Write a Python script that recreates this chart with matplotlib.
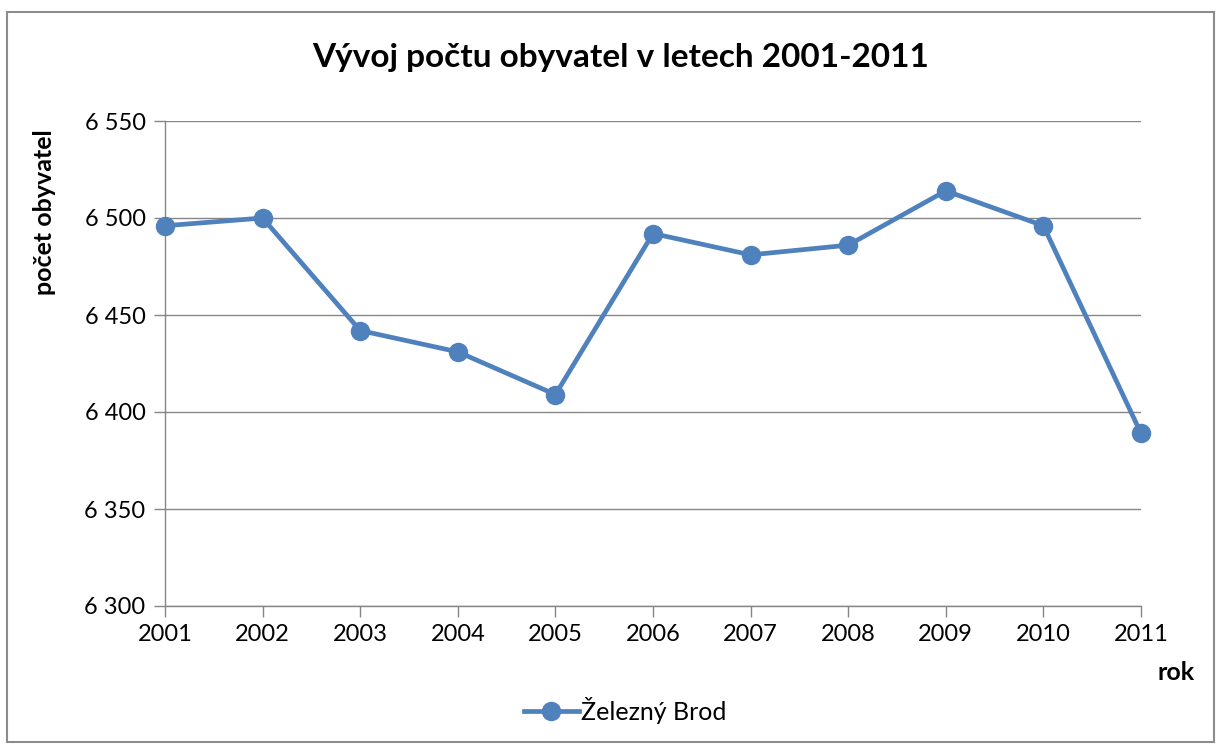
import matplotlib
matplotlib.use("Agg")
import matplotlib.pyplot as plt
from matplotlib.patches import Rectangle

years = [2001, 2002, 2003, 2004, 2005, 2006, 2007, 2008, 2009, 2010, 2011]
population = [6496, 6500, 6442, 6431, 6409, 6492, 6481, 6486, 6514, 6496, 6389]
yticks = [6300, 6350, 6400, 6450, 6500, 6550]
ytick_labels = ["6 300", "6 350", "6 400", "6 450", "6 500", "6 550"]

plt.rcParams['font.family'] = ['Lato', 'DejaVu Sans']

fig = plt.figure(figsize=(12.21, 7.45), dpi=100)
ax = fig.add_axes([165 / 1221, 1 - 606 / 745, (1141 - 165) / 1221, (606 - 121) / 745])

# chart frame
fig.patches.append(Rectangle((7 / 1221, 3 / 745), 1207 / 1221, 730 / 745,
                             transform=fig.transFigure, fill=False,
                             edgecolor="#8c8c8c", linewidth=1.5))

blue = "#4F81BD"
ax.plot(years, population, color=blue, linewidth=3.4, marker="o",
        markersize=13, label="Železný Brod", clip_on=False, zorder=5)

ax.set_xlim(2001, 2011)
ax.set_ylim(6300, 6550)
ax.set_yticks(yticks)
ax.set_yticklabels(ytick_labels)
ax.set_xticks(years)
ax.set_xticklabels([str(y) for y in years])
ax.yaxis.grid(True, color="#868686", linewidth=1)
ax.set_axisbelow(True)

for s in ["top", "right"]:
    ax.spines[s].set_visible(False)
for s in ["left", "bottom"]:
    ax.spines[s].set_color("#868686")
    ax.spines[s].set_linewidth(1)
ax.tick_params(axis="both", colors="#868686", labelcolor="black", labelsize=17,
               length=8, width=1)
ax.tick_params(axis="y", pad=6)
ax.tick_params(axis="x", pad=5)

fig.text(0.508, 1 - 58 / 745, "Vývoj počtu obyvatel v letech 2001-2011",
         ha="center", va="center", fontsize=24, fontweight="bold")
fig.text(45 / 1221, 1 - 212 / 745, "počet obyvatel", rotation=90,
         ha="center", va="center", fontsize=18, fontweight="bold")
fig.text(1176 / 1221, 1 - 673 / 745, "rok", ha="center", va="center",
         fontsize=18, fontweight="bold")

leg = fig.legend(loc="center", bbox_to_anchor=(0.512, 1 - 710 / 745), frameon=False,
                 fontsize=18, handlelength=2.2, handletextpad=0.1)

fig.savefig("out.png", dpi=100)
